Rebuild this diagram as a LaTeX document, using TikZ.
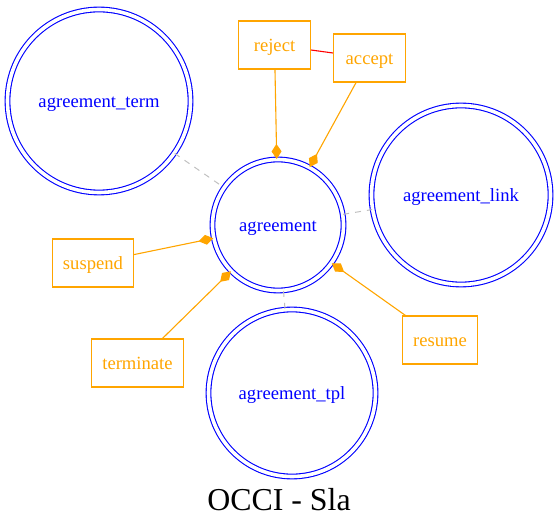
\documentclass[tikz,border=0pt]{standalone}
\usepackage{fontspec}
\setmainfont{Liberation Serif}
\usepackage{xcolor}
\usepackage{tikz}
\usetikzlibrary{shapes,arrows.meta,positioning,calc}
\definecolor{gvorange}{RGB}{255,165,0}
\definecolor{gvgray}{RGB}{192,192,192}

\begin{document}
\begin{tikzpicture}[x=1bp, y=-1bp,
    kind/.style={circle, draw=blue, double, double distance=3.6bp, line width=1.1bp, text=blue, text height=13bp, text depth=0bp, font=\fontsize{18.7}{22}\selectfont},
    action/.style={rectangle, draw=gvorange, line width=1.1bp, text=gvorange, minimum width=72bp, minimum height=48bp, inner xsep=10.5bp, text height=13bp, text depth=0bp, font=\fontsize{18.7}{22}\selectfont},
    link/.style={gvgray, line width=1bp, dash pattern=on 6bp off 6bp},
    act/.style={gvorange, line width=1.1bp, -{Diamond[length=15bp, width=10bp]}}]
    \useasboundingbox (0,0) rectangle (559,528);

    % kinds
    \node[kind, minimum size=131bp] (agreement) at (278,225) {agreement};
    \node[kind, minimum size=183bp] (term) at (99,101) {agreement\_term};
    \node[kind, minimum size=179bp] (link) at (461,195) {agreement\_link};
    \node[kind, minimum size=167bp] (tpl) at (292,393) {agreement\_tpl};

    % actions
    \node[action] (reject) at (274.5,45) {reject};
    \node[action] (accept) at (369.5,58) {accept};
    \node[action] (suspend) at (93,263) {suspend};
    \node[action] (terminate) at (137.5,363) {terminate};
    \node[action] (resume) at (440,340) {resume};

    % links between kinds
    \draw[link] (term) -- (agreement);
    \draw[link] (agreement) -- (link);
    \draw[link] (agreement) -- (tpl);

    % actions on agreement
    \draw[act] (reject) -- (agreement);
    \draw[act] (accept) -- (agreement);
    \draw[act] (suspend) -- (agreement);
    \draw[act] (terminate) -- (agreement);
    \draw[act] (resume) -- (agreement);
    \draw[red, line width=1.1bp] (reject) -- (accept);

    \node[font=\fontsize{32}{36}\selectfont] (title) at (279,500) {OCCI - Sla};
\end{tikzpicture}
\end{document}
